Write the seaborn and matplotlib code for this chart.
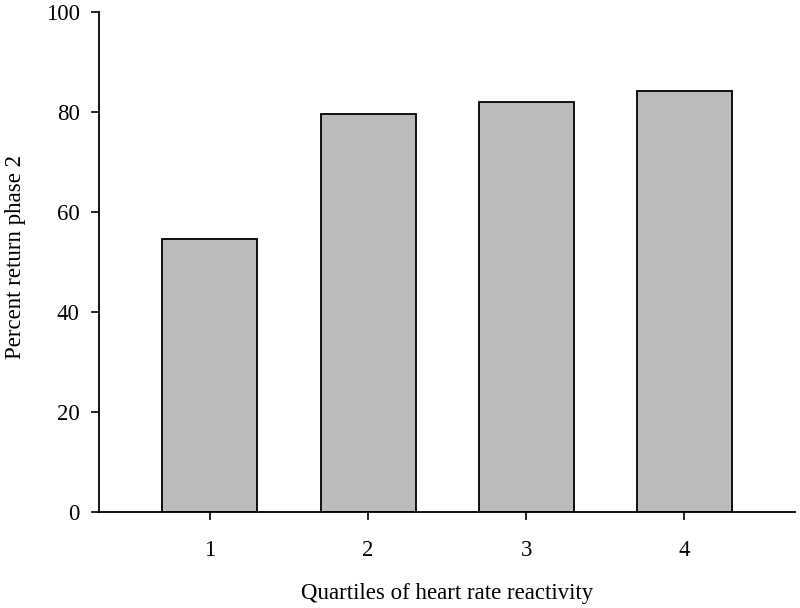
import matplotlib
matplotlib.use("Agg")
import matplotlib.pyplot as plt
import seaborn as sns
import pandas as pd

# data
quartiles = ["1", "2", "3", "4"]
percent_return = [54.6, 79.7, 82.0, 84.3]
y_ticks = [0, 20, 40, 60, 80, 100]

df = pd.DataFrame({"quartile": quartiles, "percent": percent_return})

sns.set_style("ticks")
plt.rcParams['font.family'] = ['Liberation Serif', 'DejaVu Serif']
plt.rcParams['text.color'] = 'black'
plt.rcParams['axes.labelcolor'] = 'black'
plt.rcParams['xtick.color'] = 'black'
plt.rcParams['ytick.color'] = 'black'

fig = plt.figure(figsize=(8, 6.08), dpi=100)
ax = fig.add_axes([0.124, 0.158, 0.870, 0.822])

sns.barplot(data=df, x="quartile", y="percent", ax=ax,
            color="#bbbbbb", edgecolor="black", linewidth=1.3,
            width=0.6, saturation=1)

ax.set_xlim(-0.7, 3.7)
ax.set_ylim(0, 100)
ax.set_yticks(y_ticks)

ax.set_xlabel("Quartiles of heart rate reactivity", fontsize=16.5, labelpad=16)
ax.set_ylabel("Percent return phase 2", fontsize=16.5, labelpad=13)
ax.yaxis.set_label_coords(-0.105, 0.51)
ax.tick_params(axis="both", labelsize=16.5, direction="out", length=6,
               width=1.2, colors="black")
ax.tick_params(axis="x", pad=14)
ax.tick_params(axis="y", pad=8)

sns.despine(ax=ax)
for s in ["left", "bottom"]:
    ax.spines[s].set_linewidth(1.3)
    ax.spines[s].set_color("black")

fig.savefig("out.png", dpi=100, facecolor="white")
